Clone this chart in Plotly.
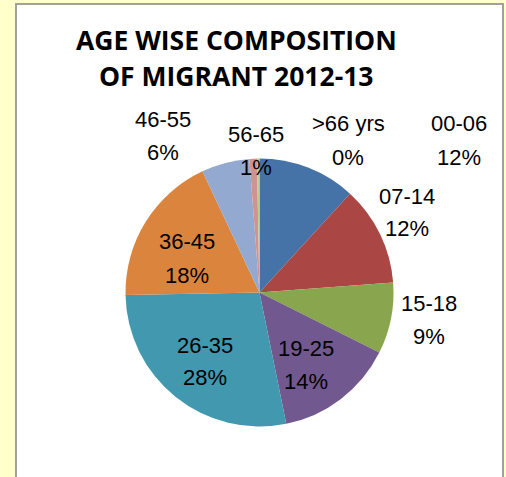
import plotly.graph_objects as go

W, H = 506, 477

# Age groups and their share of migrants (per cent)
age_groups = ["00-06", "07-14", "15-18", "19-25", "26-35", "36-45", "46-55", "56-65", ">66 yrs"]
shares = [11.8, 12.0, 8.6, 14.4, 27.9, 18.3, 5.8, 0.9, 0.3]

title_lines = ["AGE WISE COMPOSITION", "OF MIGRANT 2012-13"]

slice_colors = ["#4572A7", "#AA4643", "#89A54E", "#71588F", "#4198AF",
                "#DB843D", "#93A9CF", "#D19392", "#B9CD96"]

# Label anchor points in pixels: (x, y of name line, y of percent line)
label_pos = [
    (459, 124, 157),
    (407, 196, 228),
    (429, 303, 336),
    (306, 348, 381),
    (205, 345, 377),
    (187, 242, 275),
    (163, 120, 152),
    (256, 135, 168),
    (348, 124, 157),
]


def px(x):
    return x / W


def py(y):
    return 1 - y / H


cx, cy, r = 259.5, 292.5, 134

fig = go.Figure(
    go.Pie(
        labels=age_groups,
        values=shares,
        sort=False,
        direction="clockwise",
        rotation=0,
        marker=dict(colors=slice_colors, line=dict(width=0)),
        textinfo="none",
        hoverinfo="label+percent",
        showlegend=False,
        domain=dict(x=[px(cx - r), px(cx + r)], y=[py(cy + r), py(cy - r)]),
    )
)

total = sum(shares)
label_font = dict(family="Liberation Sans, Arial, sans-serif", size=22, color="#000000")
annotations = []
for name, val, (x, y1, y2) in zip(age_groups, shares, label_pos):
    annotations.append(dict(x=px(x), y=py(y1), xref="paper", yref="paper", text=name,
                            showarrow=False, xanchor="center", yanchor="middle", font=label_font))
    annotations.append(dict(x=px(x), y=py(y2), xref="paper", yref="paper",
                            text=f"{round(val / total * 100)}%",
                            showarrow=False, xanchor="center", yanchor="middle", font=label_font))

title_font = dict(family="Open Sans, Liberation Sans, sans-serif", size=26.5, color="#000000")
for line, y in zip(title_lines, [40, 76]):
    annotations.append(dict(x=px(236), y=py(y), xref="paper", yref="paper", text=f"<b>{line}</b>",
                            showarrow=False, xanchor="center", yanchor="middle", font=title_font))

fig.update_layout(
    width=W,
    height=H,
    margin=dict(l=0, r=0, t=0, b=0),
    paper_bgcolor="#FFFFCC",
    plot_bgcolor="#FFFFCC",
    annotations=annotations,
    shapes=[
        dict(type="rect", xref="paper", yref="paper",
             x0=px(16), x1=px(503), y0=-0.05, y1=py(4),
             fillcolor="#FFFFFF", line=dict(color="#A0A0A0", width=2), layer="below"),
    ],
)

fig.write_html("out.html")
